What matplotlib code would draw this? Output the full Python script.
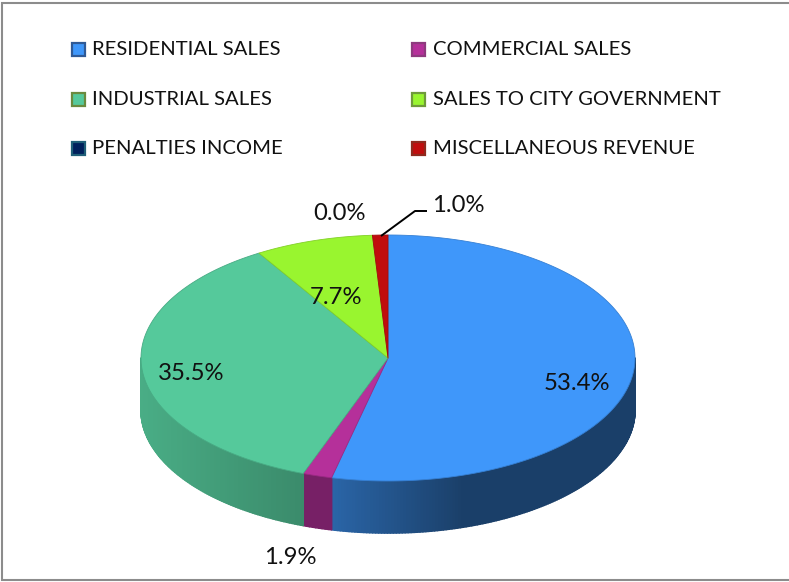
import numpy as np
import matplotlib
matplotlib.use("Agg")
import matplotlib.pyplot as plt
from matplotlib.patches import Rectangle, Polygon
from matplotlib.colors import to_rgb

categories = ["RESIDENTIAL SALES", "COMMERCIAL SALES", "INDUSTRIAL SALES",
              "SALES TO CITY GOVERNMENT", "PENALTIES INCOME", "MISCELLANEOUS REVENUE"]
values = [53.4, 1.9, 35.5, 7.7, 0.0, 1.0]
value_labels = ["53.4%", "1.9%", "35.5%", "7.7%", "0.0%", "1.0%"]
colors = ["#3F97FA", "#B5309A", "#55C99B", "#99F52F", "#00205C", "#C00D0D"]
edge_colors = ["#2F5A96", "#8E3A7E", "#6A8A3E", "#6F9A3A", "#1F5F78", "#8E2A1E"]

fig = plt.figure(figsize=(7.89, 5.82), dpi=100, facecolor="white")
ax = fig.add_axes([0, 0, 1, 1])
ax.set_xlim(0, 789)
ax.set_ylim(582, 0)
ax.axis("off")
FONT = "Lato"
FS_LEGEND = 14.6
FS_VALUE = 17.2

ax.add_patch(Rectangle((2.5, 2.5), 800, 577.5, fc="white", ec="#8c8c8c", lw=1.5))

cx, cy, rx, ry, depth = 388, 358, 247, 123, 52
fracs = np.array(values) / np.sum(values)
ends = np.cumsum(fracs) * 2 * np.pi
starts = ends - fracs * 2 * np.pi

def pt(t):
    return cx + rx * np.sin(t), cy - ry * np.cos(t)

def mix(c, f):
    r = np.array(to_rgb(c))
    return tuple(r * f)

# side wall, painted in thin strips so that the shading varies with position
for s, e, c in zip(starts, ends, colors):
    lo, hi = max(s, np.pi / 2), min(e, 3 * np.pi / 2)
    if hi <= lo:
        continue
    n = max(2, int((hi - lo) / 0.012))
    edges = np.linspace(lo, hi, n + 1)
    for a, b in zip(edges[:-1], edges[1:]):
        x0, y0 = pt(a)
        x1, y1 = pt(b)
        u = ((x0 + x1) / 2 - cx) / rx      # -1 at left, +1 at right
        if c == colors[0]:
            f = 0.67 - 0.25 * np.clip((u + 0.23) / 0.53, 0, 1)
        elif c == colors[1]:
            f = 0.66
        else:
            f = 0.86 - 0.17 * np.clip((u + 1) / 0.66, 0, 1)
        ax.add_patch(Polygon([(x0, y0), (x1, y1), (x1, y1 + depth), (x0, y0 + depth)],
                             fc=mix(c, f), ec=mix(c, f), lw=1.2, joinstyle="round"))

# top face
for s, e, c in zip(starts, ends, colors):
    if e - s <= 0:
        continue
    t = np.linspace(s, e, 200)
    xs, ys = pt(t)
    ax.add_patch(Polygon(np.r_[[[cx, cy]], np.c_[xs, ys]], fc=c, ec=mix(c, 0.85), lw=0.6, joinstyle="round"))

# legend
legend_x = [72, 412]
legend_y = [49.5, 99.5, 148.5]
for i, (name, c, ec) in enumerate(zip(categories, colors, edge_colors)):
    x, y = legend_x[i % 2], legend_y[i // 2]
    ax.add_patch(Rectangle((x, y - 6.5), 13, 13, fc=c, ec=ec, lw=1.6))
    ax.text(x + 20 + i % 2, y, name, family=FONT, fontsize=FS_LEGEND, color="#111111", va="center", ha="left")

# value labels
label_xy = [(577, 383), (290, 557), (191, 373), (336, 298), (340, 214), (458, 205)]
for s, (x, y) in zip(value_labels, label_xy):
    ax.text(x, y, s, family=FONT, fontsize=FS_VALUE, color="#111111", va="center", ha="center")
ax.plot([381, 415, 427], [236, 211, 211], color="black", lw=1.4, solid_capstyle="butt")

fig.savefig("out.png", dpi=100)
